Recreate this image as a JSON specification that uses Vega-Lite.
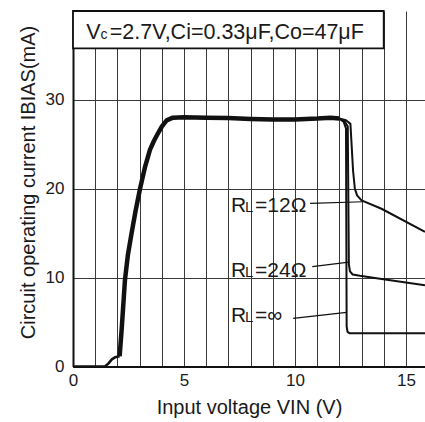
{
  "$schema": "https://vega.github.io/schema/vega-lite/v6.json",
  "width": 352,
  "height": 355.5,
  "autosize": {"type": "none"},
  "padding": {"left": 73, "top": 11, "right": 0, "bottom": 55.5},
  "background": "white",
  "config": {
    "view": {"stroke": null},
    "font": "Liberation Sans",
    "axis": {"labelFont": "Liberation Sans", "titleFont": "Liberation Sans", "labelColor": "#1a1a1a", "titleColor": "#1a1a1a", "titleFontWeight": "normal"}
  },
  "datasets": {
    "curves": [
      {"x": 0, "y": 0, "s": "base"},
      {"x": 1.44, "y": 0, "s": "base"},
      {"x": 1.6, "y": 0.35, "s": "base"},
      {"x": 1.75, "y": 0.8, "s": "base"},
      {"x": 1.89, "y": 1.03, "s": "base"},
      {"x": 2.1, "y": 1.15, "s": "base"},
      {"x": 2.1, "y": 1.15, "s": "common"},
      {"x": 2.19, "y": 4.1, "s": "common"},
      {"x": 2.34, "y": 9.7, "s": "common"},
      {"x": 2.47, "y": 12.5, "s": "common"},
      {"x": 2.64, "y": 15, "s": "common"},
      {"x": 2.82, "y": 17.5, "s": "common"},
      {"x": 3.02, "y": 20, "s": "common"},
      {"x": 3.25, "y": 22.5, "s": "common"},
      {"x": 3.47, "y": 24.4, "s": "common"},
      {"x": 3.65, "y": 25.4, "s": "common"},
      {"x": 3.8, "y": 26.1, "s": "common"},
      {"x": 4.0, "y": 27.0, "s": "common"},
      {"x": 4.22, "y": 27.7, "s": "common"},
      {"x": 4.5, "y": 28.0, "s": "common"},
      {"x": 5, "y": 28.05, "s": "common"},
      {"x": 6, "y": 28.0, "s": "common"},
      {"x": 7, "y": 27.95, "s": "common"},
      {"x": 8, "y": 27.85, "s": "common"},
      {"x": 9, "y": 27.8, "s": "common"},
      {"x": 10, "y": 27.8, "s": "common"},
      {"x": 11, "y": 27.9, "s": "common"},
      {"x": 11.6, "y": 28.0, "s": "common"},
      {"x": 12.0, "y": 27.9, "s": "common"},
      {"x": 12.0, "y": 27.9, "s": "RL=∞"},
      {"x": 12.2, "y": 27.5, "s": "RL=∞"},
      {"x": 12.3, "y": 26.8, "s": "RL=∞"},
      {"x": 12.33, "y": 4.5, "s": "RL=∞"},
      {"x": 12.37, "y": 3.9, "s": "RL=∞"},
      {"x": 12.47, "y": 3.73, "s": "RL=∞"},
      {"x": 15.86, "y": 3.73, "s": "RL=∞"},
      {"x": 12.0, "y": 27.9, "s": "RL=24Ω"},
      {"x": 12.25, "y": 27.55, "s": "RL=24Ω"},
      {"x": 12.38, "y": 27.0, "s": "RL=24Ω"},
      {"x": 12.43, "y": 11.5, "s": "RL=24Ω"},
      {"x": 12.48, "y": 10.7, "s": "RL=24Ω"},
      {"x": 12.6, "y": 10.35, "s": "RL=24Ω"},
      {"x": 12.93, "y": 10.2, "s": "RL=24Ω"},
      {"x": 13.83, "y": 9.88, "s": "RL=24Ω"},
      {"x": 15.86, "y": 9.15, "s": "RL=24Ω"},
      {"x": 12.0, "y": 27.9, "s": "RL=12Ω"},
      {"x": 12.3, "y": 27.7, "s": "RL=12Ω"},
      {"x": 12.5, "y": 27.3, "s": "RL=12Ω"},
      {"x": 12.62, "y": 22.0, "s": "RL=12Ω"},
      {"x": 12.7, "y": 20.0, "s": "RL=12Ω"},
      {"x": 12.8, "y": 19.25, "s": "RL=12Ω"},
      {"x": 13.0, "y": 18.7, "s": "RL=12Ω"},
      {"x": 13.9, "y": 17.75, "s": "RL=12Ω"},
      {"x": 15.86, "y": 15.15, "s": "RL=12Ω"}
    ],
    "labels": [
      {"x": 7.12, "y": 17.42, "a": "R", "b": "L", "c": "=12Ω"},
      {"x": 7.12, "y": 10.05, "a": "R", "b": "L", "c": "=24Ω"},
      {"x": 7.12, "y": 5.04, "a": "R", "b": "L", "c": "=∞"}
    ],
    "leaders": [
      {"x": 10.68, "y": 18.36, "x2": 13.08, "y2": 18.54},
      {"x": 10.78, "y": 11.23, "x2": 12.43, "y2": 11.75},
      {"x": 9.92, "y": 5.42, "x2": 12.33, "y2": 6.1}
    ],
    "header": [
      {"x": 0, "x2": 14, "y": 35.8, "y2": 40, "tx": 0.6, "ty": 36.82, "a": "V", "b": "c", "c": "=2.7V,Ci=0.33μF,Co=47μF"}
    ]
  },
  "layer": [
    {
      "data": {"name": "curves"},
      "transform": [{"filter": "datum.s === 'base'"}],
      "mark": {"type": "line", "color": "#111111", "strokeJoin": "round", "strokeWidth": 2.6},
      "encoding": {
        "x": {
          "field": "x", "type": "quantitative",
          "scale": {"domain": [0, 15.86], "nice": false, "zero": false},
          "axis": {
            "title": "Input voltage VIN (V)",
            "titleFontSize": 20,
            "titlePadding": 9,
            "values": [0, 1, 2, 3, 4, 5, 6, 7, 8, 9, 10, 11, 12, 13, 14, 15],
            "tickCount": 40,
            "format": "d",
            "labelExpr": "datum.value % 5 === 0 ? datum.label : ''",
            "labelFontSize": 17,
            "labelPadding": 6,
            "labelAngle": 0,
            "labelFlush": false,
            "labelOverlap": false,
            "ticks": false,
            "grid": true,
            "gridColor": "#3a3a3a",
            "gridWidth": 1,
            "gridOpacity": 1,
            "domain": true,
            "domainColor": "#111111",
            "domainWidth": 2
          }
        },
        "y": {
          "field": "y", "type": "quantitative",
          "scale": {"domain": [0, 40], "nice": false, "zero": false},
          "axis": {
            "title": "Circuit operating current IBIAS(mA)",
            "titleFontSize": 20,
            "titlePadding": 7,
            "titleY": 171,
            "values": [0, 10, 20, 30],
            "tickCount": 10,
            "format": "d",
            "labelFontSize": 17,
            "labelPadding": 9,
            "labelAngle": 0,
            "ticks": false,
            "grid": true,
            "gridColor": "#3a3a3a",
            "gridWidth": 1,
            "gridOpacity": 1,
            "domain": true,
            "domainColor": "#111111",
            "domainWidth": 2
          }
        },
        "detail": {"field": "s", "type": "nominal"}
      }
    },
    {
      "data": {"name": "curves"},
      "transform": [{"filter": "datum.s === 'common'"}],
      "mark": {"type": "line", "color": "#111111", "strokeJoin": "round", "strokeWidth": 4.5},
      "encoding": {
        "x": {"field": "x", "type": "quantitative"},
        "y": {"field": "y", "type": "quantitative"},
        "detail": {"field": "s", "type": "nominal"}
      }
    },
    {
      "data": {"name": "curves"},
      "transform": [{"filter": "datum.s !== 'common' && datum.s !== 'base'"}],
      "mark": {"type": "line", "color": "#111111", "strokeJoin": "round", "strokeWidth": 2},
      "encoding": {
        "x": {"field": "x", "type": "quantitative"},
        "y": {"field": "y", "type": "quantitative"},
        "detail": {"field": "s", "type": "nominal"}
      }
    },
    {
      "data": {"name": "header"},
      "mark": {"type": "rect", "fill": "white", "stroke": "#111111", "strokeWidth": 1.8},
      "encoding": {
        "x": {"field": "x", "type": "quantitative"},
        "x2": {"field": "x2"},
        "y": {"field": "y", "type": "quantitative"},
        "y2": {"field": "y2"}
      }
    },
    {
      "data": {"name": "header"},
      "mark": {"type": "text", "align": "left", "baseline": "alphabetic", "fontSize": 21.5, "font": "Liberation Sans", "color": "#1a1a1a"},
      "encoding": {
        "x": {"field": "tx", "type": "quantitative"},
        "y": {"field": "ty", "type": "quantitative"},
        "text": {"field": "a"}
      }
    },
    {
      "data": {"name": "header"},
      "mark": {"type": "text", "align": "left", "baseline": "alphabetic", "fontSize": 14, "dx": 14.3, "font": "Liberation Sans", "color": "#1a1a1a"},
      "encoding": {
        "x": {"field": "tx", "type": "quantitative"},
        "y": {"field": "ty", "type": "quantitative"},
        "text": {"field": "b"}
      }
    },
    {
      "data": {"name": "header"},
      "mark": {"type": "text", "align": "left", "baseline": "alphabetic", "fontSize": 21.5, "dx": 23.5, "font": "Liberation Sans", "color": "#1a1a1a"},
      "encoding": {
        "x": {"field": "tx", "type": "quantitative"},
        "y": {"field": "ty", "type": "quantitative"},
        "text": {"field": "c"}
      }
    },
    {
      "mark": {"type": "rule", "color": "#111111", "strokeWidth": 2},
      "encoding": {"y": {"datum": 40, "type": "quantitative"}}
    },
    {
      "data": {"name": "leaders"},
      "mark": {"type": "rule", "color": "#111111", "strokeWidth": 1.2},
      "encoding": {
        "x": {"field": "x", "type": "quantitative"},
        "y": {"field": "y", "type": "quantitative"},
        "x2": {"field": "x2"},
        "y2": {"field": "y2"}
      }
    },
    {
      "data": {"name": "labels"},
      "mark": {"type": "text", "align": "left", "baseline": "alphabetic", "fontSize": 21, "font": "Liberation Sans", "color": "#1a1a1a"},
      "encoding": {
        "x": {"field": "x", "type": "quantitative"},
        "y": {"field": "y", "type": "quantitative"},
        "text": {"field": "a"}
      }
    },
    {
      "data": {"name": "labels"},
      "mark": {"type": "text", "align": "left", "baseline": "alphabetic", "fontSize": 15, "dx": 14, "font": "Liberation Sans", "color": "#1a1a1a"},
      "encoding": {
        "x": {"field": "x", "type": "quantitative"},
        "y": {"field": "y", "type": "quantitative"},
        "text": {"field": "b"}
      }
    },
    {
      "data": {"name": "labels"},
      "mark": {"type": "text", "align": "left", "baseline": "alphabetic", "fontSize": 21, "dx": 24, "font": "Liberation Sans", "color": "#1a1a1a"},
      "encoding": {
        "x": {"field": "x", "type": "quantitative"},
        "y": {"field": "y", "type": "quantitative"},
        "text": {"field": "c"}
      }
    }
  ]
}
